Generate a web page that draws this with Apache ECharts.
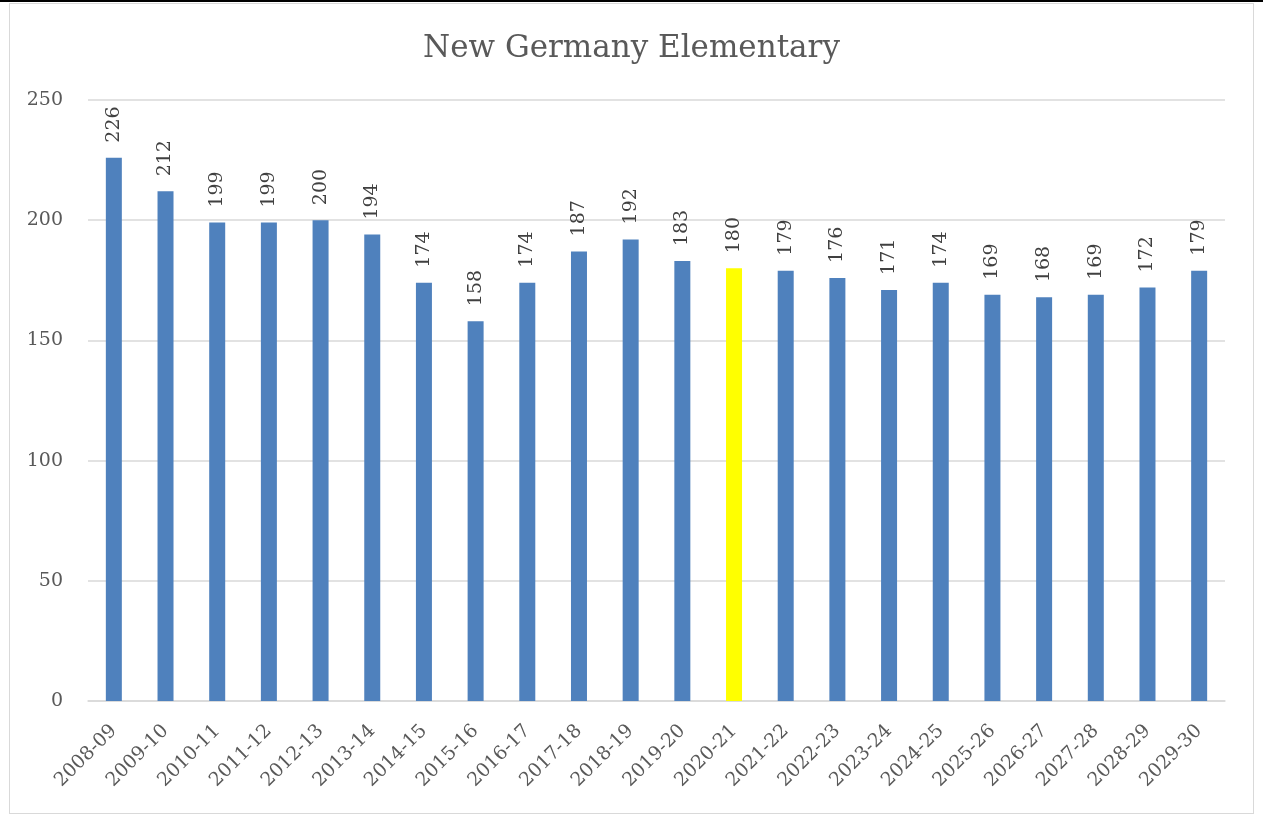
<!DOCTYPE html>
<html>
<head>
<meta charset="utf-8">
<script src="https://cdn.jsdelivr.net/npm/echarts@6/dist/echarts.min.js"></script>
<style>
  html, body { margin: 0; padding: 0; background: #fff; }
  .topline { position: absolute; left: 0; top: 0; width: 1263px; height: 2px; background: #000; }
  .frame { position: absolute; left: 9px; top: 3px; width: 1245px; height: 811px; border: 1px solid #d9d9d9; box-sizing: border-box; }
  #chart { position: absolute; left: 0; top: 0; width: 1263px; height: 839px; }
</style>
</head>
<body>
<div class="topline"></div>
<div class="frame"></div>
<div id="chart"></div>
<script>
// school years
const years = ['2008-09', '2009-10', '2010-11', '2011-12', '2012-13', '2013-14', '2014-15', '2015-16',
  '2016-17', '2017-18', '2018-19', '2019-20', '2020-21', '2021-22', '2022-23', '2023-24', '2024-25',
  '2025-26', '2026-27', '2027-28', '2028-29', '2029-30'];
// enrollment
const enrollment = [226, 212, 199, 199, 200, 194, 174, 158, 174, 187, 192, 183, 180, 179, 176, 171, 174,
  169, 168, 169, 172, 179];
const highlightYear = '2020-21';

const font = '"DejaVu Serif", serif';
const chart = echarts.init(document.getElementById('chart'));
chart.setOption({
  animation: false,
  title: {
    text: 'New Germany Elementary',
    left: 'center',
    top: 28,
    textStyle: { fontFamily: font, fontSize: 31, fontWeight: 'normal', color: '#595959' },
  },
  grid: { left: 88, right: 38, top: 100, bottom: 138 },
  xAxis: {
    type: 'category',
    data: years,
    axisTick: { show: false },
    axisLine: { lineStyle: { color: '#d9d9d9', width: 1.5 } },
    axisLabel: { rotate: 45, interval: 0, fontFamily: font, fontSize: 19, color: '#595959', margin: 27 },
  },
  yAxis: {
    type: 'value',
    min: 0,
    max: 250,
    interval: 50,
    axisLine: { show: false },
    axisTick: { show: false },
    splitLine: { lineStyle: { color: '#d9d9d9', width: 1.5 } },
    axisLabel: { fontFamily: font, fontSize: 19, color: '#595959', margin: 25 },
  },
  series: [{
    type: 'bar',
    barWidth: 16,
    data: enrollment.map((v, i) => ({
      value: v,
      itemStyle: { color: years[i] === highlightYear ? '#ffff00' : '#4f81bd' },
    })),
    label: {
      show: true,
      position: 'top',
      rotate: 90,
      align: 'left',
      verticalAlign: 'middle',
      distance: 15,
      fontFamily: font,
      fontSize: 19,
      color: '#404040',
    },
  }],
});
</script>
</body>
</html>
